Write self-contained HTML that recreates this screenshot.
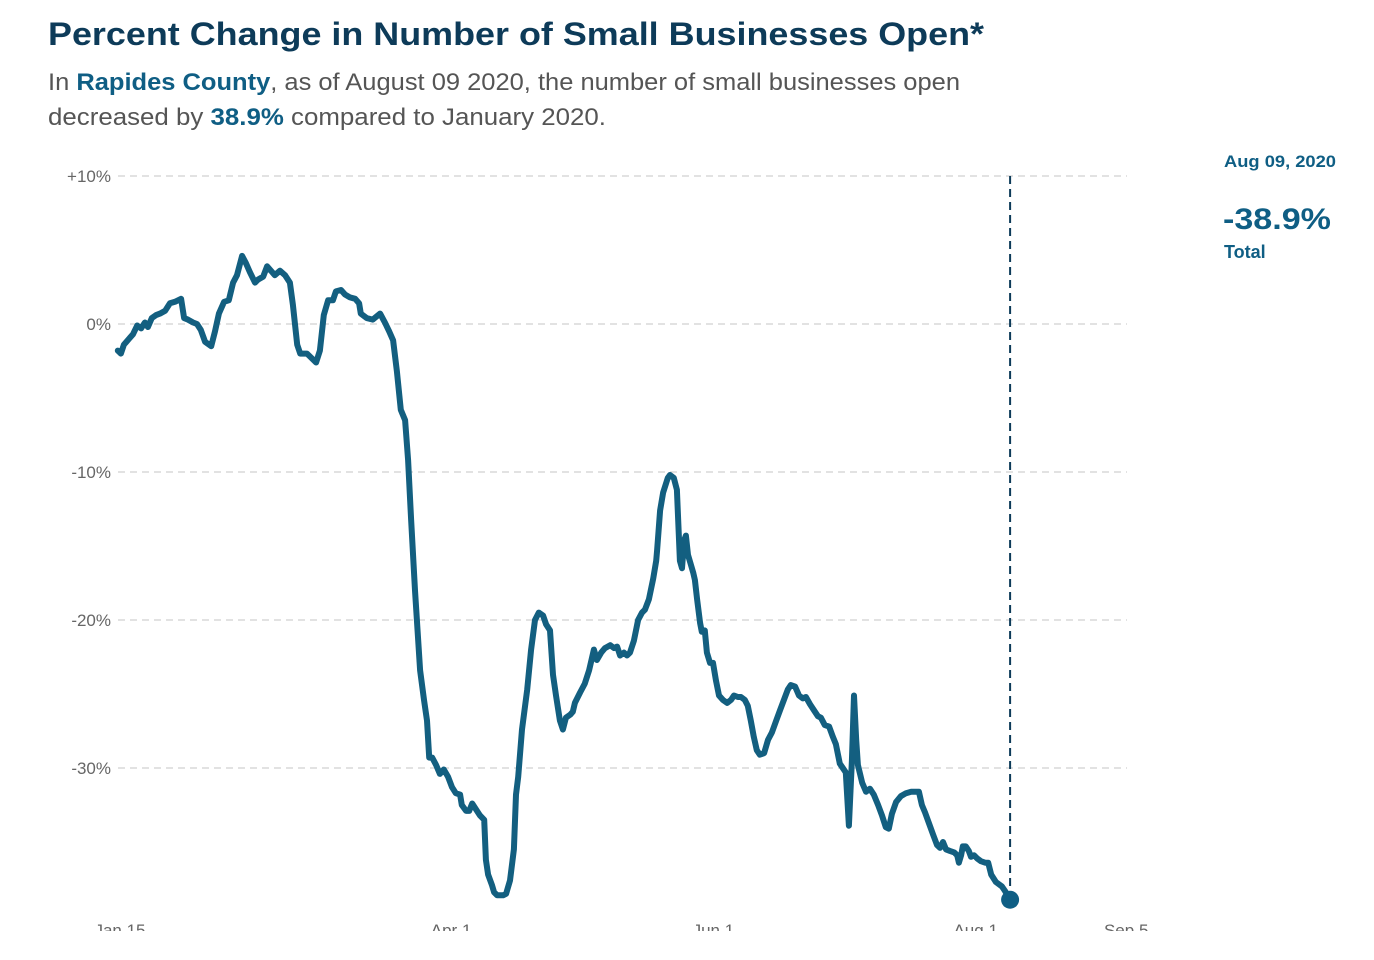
<!DOCTYPE html>
<html><head><meta charset="utf-8"><style>
html,body{margin:0;padding:0;background:#fff;width:1374px;height:960px;overflow:hidden}
svg{display:block}
text{font-family:"Liberation Sans",sans-serif}
</style></head><body>
<svg id="chart" width="1374" height="960" viewBox="0 0 1374 960">
<text x="48" y="45" font-size="32" font-weight="bold" fill="#0d3b59" textLength="936" lengthAdjust="spacingAndGlyphs">Percent Change in Number of Small Businesses Open*</text>
<text x="48" y="90" font-size="24" fill="#555" textLength="912" lengthAdjust="spacingAndGlyphs">In <tspan font-weight="bold" fill="#0f5e84">Rapides County</tspan>, as of August 09 2020, the number of small businesses open</text>
<text x="48" y="125" font-size="24" fill="#555" textLength="558" lengthAdjust="spacingAndGlyphs">decreased by <tspan font-weight="bold" fill="#0f5e84">38.9%</tspan> compared to January 2020.</text>
<g id="grid"></g><g id="xaxis"></g><g id="plot"></g>
<rect x="0" y="931" width="1374" height="29" fill="#fff"/>
<text x="1224" y="167" font-size="17" font-weight="bold" fill="#0f5e84" textLength="112" lengthAdjust="spacingAndGlyphs">Aug 09, 2020</text>
<text x="1223" y="229" font-size="30" font-weight="bold" fill="#0f5e84" textLength="108" lengthAdjust="spacingAndGlyphs">-38.9%</text>
<text x="1224" y="258" font-size="18" font-weight="bold" fill="#0f5e84">Total</text>
</svg>
<script>
const days=[-0.5,0.2,0.9,2.1,3.0,4.0,4.9,5.8,6.5,7.4,8.4,9.3,10.5,11.6,12.8,14.2,14.9,15.8,17.0,17.9,18.8,19.8,21.2,22.1,23.0,24.2,25.3,26.3,27.2,28.4,29.3,30.2,31.4,32.1,33.3,34.2,35.1,36.0,37.2,38.4,39.5,40.2,41.2,41.9,43.5,44.2,45.6,46.5,47.4,48.4,49.5,50.2,51.4,52.3,53.5,54.7,55.6,56.0,57.4,58.8,60.5,61.6,62.6,63.5,64.4,65.3,66.3,67.0,67.7,68.6,69.8,70.7,71.4,71.9,72.6,73.5,74.4,75.3,76.3,77.2,78.1,79.1,79.5,80.5,81.2,81.9,82.8,83.7,84.7,85.1,85.6,86.5,87.0,87.7,89.1,89.8,90.7,91.6,92.1,92.6,93.5,94.7,95.6,96.5,97.4,98.4,99.1,100.0,100.7,101.4,102.3,103.0,103.7,104.7,105.3,105.8,107.0,108.1,109.1,110.2,110.9,111.9,112.8,114.0,114.9,115.6,116.3,117.2,117.9,118.6,119.5,120.5,121.4,122.1,123.0,124.0,124.7,124.9,125.6,126.3,127.4,127.9,128.8,129.5,130.2,130.7,131.2,131.6,132.1,132.6,133.3,133.7,134.2,134.9,135.3,136.0,136.5,137.2,137.9,138.6,139.3,140.2,141.2,142.1,142.8,143.7,144.4,145.3,146.0,146.7,147.4,148.1,148.8,149.8,150.7,151.6,152.6,153.5,154.4,155.3,156.0,157.0,157.9,158.8,159.5,160.5,161.4,162.3,163.0,163.9,164.9,165.8,166.5,167.4,168.1,168.8,169.5,170.2,170.7,171.2,171.6,172.6,173.5,174.4,175.3,176.3,177.2,178.1,178.8,179.5,180.5,181.6,182.8,184.0,184.9,185.8,186.5,187.2,188.1,189.1,190.0,190.7,191.4,192.1,193.0,194.0,194.7,195.1,195.6,196.0,196.7,197.4,197.9,198.6,199.3,200.2,201.2,201.9,202.6,203.7,205.1,205.8,207.0];
const values=[-1.8,-2.0,-1.4,-1.0,-0.7,-0.1,-0.3,0.1,-0.2,0.4,0.6,0.7,0.9,1.4,1.5,1.7,0.4,0.3,0.1,0.0,-0.4,-1.2,-1.5,-0.5,0.7,1.5,1.6,2.8,3.3,4.6,4.1,3.5,2.8,3.0,3.2,3.9,3.6,3.3,3.6,3.3,2.8,1.3,-1.4,-2.0,-2.0,-2.2,-2.6,-1.8,0.6,1.6,1.6,2.2,2.3,2.0,1.8,1.7,1.4,0.7,0.4,0.3,0.7,0.1,-0.5,-1.1,-3.2,-5.8,-6.5,-9.2,-13.2,-18.0,-23.4,-25.4,-26.8,-29.3,-29.3,-29.8,-30.4,-30.1,-30.6,-31.3,-31.7,-31.8,-32.5,-32.9,-32.9,-32.4,-32.8,-33.2,-33.5,-36.2,-37.2,-37.9,-38.4,-38.6,-38.6,-38.5,-37.6,-35.5,-31.8,-30.6,-27.4,-24.7,-22.0,-20.0,-19.5,-19.7,-20.3,-20.7,-23.7,-25.1,-26.8,-27.4,-26.6,-26.4,-26.2,-25.6,-24.9,-24.3,-23.4,-22.0,-22.7,-22.2,-21.9,-21.7,-21.9,-21.8,-22.4,-22.2,-22.4,-22.2,-21.4,-20.0,-19.5,-19.3,-18.6,-17.2,-16.0,-15.3,-12.6,-11.4,-10.4,-10.2,-10.4,-11.2,-16.0,-16.5,-14.6,-14.3,-15.6,-16.1,-16.8,-17.3,-18.6,-20.2,-20.8,-20.7,-22.2,-22.9,-22.9,-24.1,-25.1,-25.4,-25.6,-25.4,-25.1,-25.2,-25.2,-25.4,-25.8,-26.8,-27.9,-28.8,-29.1,-29.0,-28.1,-27.6,-26.8,-26.1,-25.4,-24.7,-24.4,-24.5,-25.1,-25.3,-25.2,-25.7,-26.1,-26.5,-26.6,-27.1,-27.2,-27.9,-28.4,-29.7,-30.0,-30.3,-33.9,-29.5,-25.1,-28.1,-29.8,-31.0,-31.6,-31.4,-31.8,-32.5,-33.2,-34.0,-34.1,-33.1,-32.3,-31.9,-31.7,-31.6,-31.6,-31.6,-32.5,-33.0,-33.7,-34.5,-35.2,-35.4,-35.0,-35.5,-35.6,-35.7,-35.9,-36.4,-35.9,-35.3,-35.3,-35.6,-36.0,-35.9,-36.1,-36.3,-36.4,-36.4,-37.2,-37.7,-38.0,-38.3,-38.9];
const yTicks=[10,0,-10,-20,-30];
const yTickLabels=["+10%","0%","-10%","-20%","-30%"];
const xTickDays=[0,77,138,199,234];
const xTickLabels=["Jan 15","Apr 1","Jun 1","Aug 1","Sep 5"];
const markerDay=207;

const NS="http://www.w3.org/2000/svg";
const X=d=>120+d*4.3;
const Y=v=>324-v*14.8;
function mk(tag,attrs,parent){const e=document.createElementNS(NS,tag);for(const k in attrs)e.setAttribute(k,attrs[k]);parent.appendChild(e);return e;}
const grid=document.getElementById('grid'),xaxis=document.getElementById('xaxis'),plot=document.getElementById('plot');
yTicks.forEach((t,i)=>{
  const l=mk('line',{x1:118,x2:1127,y1:Y(t),y2:Y(t),stroke:'#d8d8d8','stroke-width':1.5,'stroke-dasharray':'7 5'},grid);
  
  
  const tx=mk('text',{x:111,y:Y(t)+6,'text-anchor':'end','font-size':17,fill:'#666'},grid);
  tx.textContent=yTickLabels[i];
  
  
});
xTickDays.forEach((d,i)=>{
  const tx=mk('text',{x:X(d),y:936,'text-anchor':'middle','font-size':17,fill:'#666'},xaxis);
  tx.textContent=xTickLabels[i];
  
  
});
const vl=mk('line',{x1:X(markerDay),x2:X(markerDay),y1:Y(10),y2:Y(values[values.length-1]),stroke:'#0d3b59','stroke-width':2,'stroke-dasharray':'8 5'},plot);


const pts=days.map((d,i)=>X(d).toFixed(1)+','+Y(values[i]).toFixed(1)).join(' ');
const pl=mk('polyline',{points:pts,fill:'none',stroke:'#135f80','stroke-width':6,'stroke-linejoin':'round','stroke-linecap':'round'},plot);


const dot=mk('circle',{cx:X(days[days.length-1]),cy:Y(values[values.length-1]),r:9,fill:'#0f5e84'},plot);


</script>
</body></html>
